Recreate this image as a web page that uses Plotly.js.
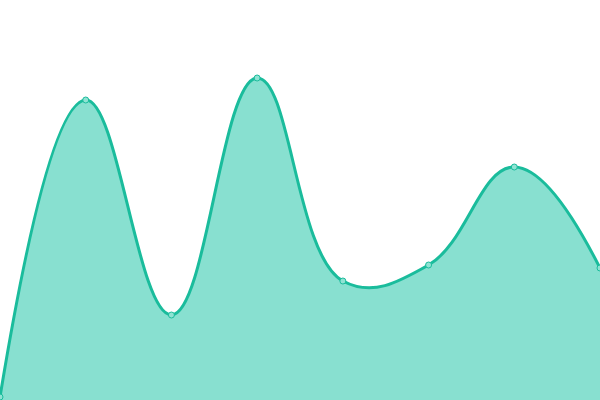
<!DOCTYPE html>
<html>
<head>
<meta charset="utf-8">
<script src="https://cdn.plot.ly/plotly-3.0.1.min.js"></script>
<style>
  html, body { margin: 0; padding: 0; background: #fff; }
  #chartDiv { width: 600px; height: 400px; }
</style>
</head>
<body>
<div id="chartDiv"></div>
<script>
// one point per step
var steps = [0, 1, 2, 3, 4, 5, 6, 7];
var values = [3, 300, 85, 322, 119, 135, 233, 132];

var trace = {
	x: steps,
	y: values,
	type: "scatter",
	mode: "lines+markers",
	fill: "tozeroy",
	fillcolor: "#88e0d0",
	line: {color: "#1abc9c", width: 3, shape: "spline", smoothing: 1.2},
	marker: {
		size: 6,
		color: "#8fe3d3",
		line: {color: "#1abc9c", width: 1}
	},
	cliponaxis: false,
	hoverinfo: "none"
};

var layout = {
	width: 600,
	height: 400,
	margin: {l: 0, r: 0, t: 0, b: 0},
	paper_bgcolor: "#fff",
	plot_bgcolor: "#fff",
	showlegend: false,
	xaxis: {range: [0, 7], visible: false, fixedrange: true},
	yaxis: {range: [0, 400], visible: false, fixedrange: true}
};

Plotly.newPlot("chartDiv", [trace], layout, {displayModeBar: false, staticPlot: true});
</script>
</body>
</html>
